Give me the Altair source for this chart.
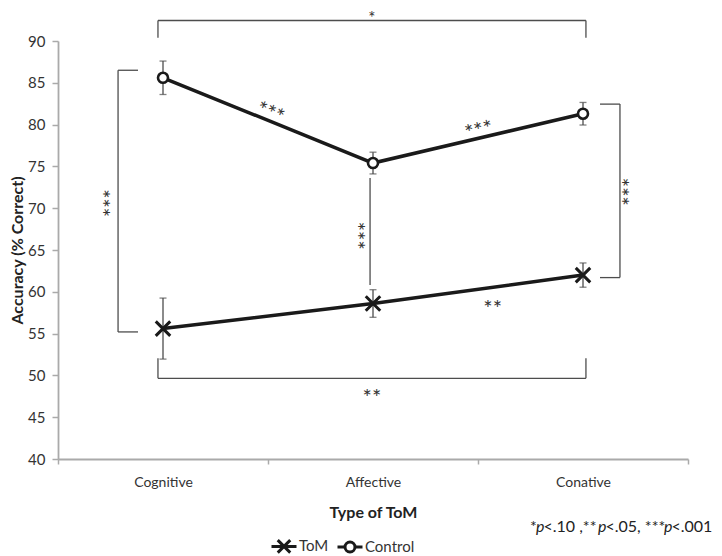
import altair as alt
import pandas as pd

# ---------------- data ----------------
categories = ["Cognitive", "Affective", "Conative"]
tom_mean = [55.6, 58.6, 62.0]
tom_err = [3.65, 1.65, 1.45]
control_mean = [85.6, 75.4, 81.3]
control_err = [2.0, 1.3, 1.35]
groups = ["ToM", "Control"]

# significance brackets (x in category units, 0..3; y in % correct)
br_x = [0.476, 0.476, 2.514, 0.286, 0.286, 0.286, 1.486, 2.676, 2.581, 2.581, 0.476, 0.476, 2.514]
br_x2 = [2.514, 0.476, 2.514, 0.286, 0.381, 0.381, 1.486, 2.676, 2.676, 2.676, 2.514, 0.476, 2.514]
br_y = [92.45, 92.45, 92.45, 86.5, 86.5, 55.2, 73.6, 82.45, 82.45, 61.7, 49.65, 49.65, 49.65]
br_y2 = [92.45, 90.4, 90.4, 55.2, 86.5, 55.2, 60.8, 61.7, 82.45, 61.7, 49.65, 52.05, 52.05]

star_text = ["*", "***", "***", "**", "***", "***", "***", "**"]
star_x = [1.495, 1.01, 2.005, 2.07, 0.204, 1.419, 2.676, 1.495]
star_y = [92.58, 81.3, 79.2, 57.98, 70.6, 66.7, 71.95, 47.3]
star_angle = [0, 22, 347, 0, 90, 90, 90, 0]

foot_text = ["*", "p", "<.10 ,**", "p", "<.05, ***", "p", "<.001"]
foot_italic = [False, True, False, True, False, True, False]
foot_px = [472, 478, 485.5, 540, 547.5, 606, 613.5]

# ---------------- tables ----------------
rows = []
for i, c in enumerate(categories):
    rows.append({"cat": c, "x": i + 0.5, "group": "ToM", "mean": tom_mean[i],
                 "lo": tom_mean[i] - tom_err[i], "hi": tom_mean[i] + tom_err[i]})
    rows.append({"cat": c, "x": i + 0.5, "group": "Control", "mean": control_mean[i],
                 "lo": control_mean[i] - control_err[i], "hi": control_mean[i] + control_err[i]})
df = pd.DataFrame(rows)
br = pd.DataFrame({"x": br_x, "x2": br_x2, "y": br_y, "y2": br_y2})
stars = pd.DataFrame({"t": star_text, "x": star_x, "y": star_y, "a": star_angle})
foot = pd.DataFrame({"t": foot_text, "it": foot_italic, "px": foot_px})
leg = pd.DataFrame({"group": groups, "x": [0.5, 0.5], "mean": [60, 60]})

FONT = "Lato"
INK = "#1a1a1a"
GREY = "#4d4d4d"

lab_expr = " : ".join(
    [f"datum.value == {i + 0.5} ? '{c}'" for i, c in enumerate(categories)]) + " : ''"

xscale = alt.Scale(domain=[0, 3], nice=False, zero=False)
yscale = alt.Scale(domain=[40, 90], nice=False, zero=False)

xaxis = alt.Axis(
    values=[0, 0.5, 1, 1.5, 2, 2.5, 3], labelExpr=lab_expr, title="Type of ToM",
    grid=False, tickOpacity={"condition": {"test": "datum.value % 1 === 0", "value": 1}, "value": 0},
    tickSize=5, tickWidth=1.5, tickColor="#aaaaaa", domainColor="#aaaaaa", domainWidth=1.8,
    labelFont=FONT, labelFontSize=14, labelColor="#333333", labelPadding=11,
    labelOverlap=False, labelBound=False, labelFlush=False,
    titleFont=FONT, titleFontSize=16, titleFontWeight="bold", titleColor="#222222", titlePadding=15,
)
yaxis = alt.Axis(
    values=[40, 45, 50, 55, 60, 65, 70, 75, 80, 85, 90], title="Accuracy (% Correct)",
    grid=False, tickSize=6, tickWidth=1.5, tickColor="#aaaaaa", domainColor="#aaaaaa", domainWidth=1.8,
    labelFont=FONT, labelFontSize=15, labelColor="#333333", labelPadding=7,
    titleFont=FONT, titleFontSize=16, titleFontWeight="bold", titleColor="#222222", titlePadding=2,
)

base = alt.Chart(df)

brackets = alt.Chart(br).mark_rule(color=GREY, strokeWidth=1.3).encode(
    x=alt.X("x:Q", scale=xscale, axis=xaxis), x2="x2:Q",
    y=alt.Y("y:Q", scale=yscale, axis=yaxis), y2="y2:Q")

lines = base.mark_line(color=INK, strokeWidth=3.5).encode(
    x=alt.X("x:Q", scale=xscale), y=alt.Y("mean:Q", scale=yscale), detail="group:N")

ebars = base.mark_rule(color=GREY, strokeWidth=1.3).encode(
    x="x:Q", y="lo:Q", y2="hi:Q")
cap_lo = base.mark_tick(orient="horizontal", size=7, thickness=1.3, color=GREY).encode(
    x="x:Q", y="lo:Q")
cap_hi = base.mark_tick(orient="horizontal", size=7, thickness=1.3, color=GREY).encode(
    x="x:Q", y="hi:Q")

tom_pts = base.transform_filter("datum.group == 'ToM'").mark_point(
    shape="M-1,-1L1,1M-1,1L1,-1", size=210, strokeWidth=3, color=INK, filled=False, opacity=1
).encode(x="x:Q", y="mean:Q")
ctl_pts = base.transform_filter("datum.group == 'Control'").mark_point(
    shape="circle", size=100, strokeWidth=2.6, stroke=INK, fill="white", opacity=1, fillOpacity=1
).encode(x="x:Q", y="mean:Q")

star_enc = dict(x="x:Q", y="y:Q", text="t:N", angle=alt.Angle("a:Q", scale=None))
star_layer = alt.Chart(stars).transform_filter("datum.t != '*'").mark_text(
    font=FONT, fontSize=22, color="#333333", baseline="middle", align="center"
).encode(**star_enc)
top_star = alt.Chart(stars).transform_filter("datum.t == '*'").mark_text(
    font=FONT, fontSize=17, color="#333333", baseline="middle", align="center"
).encode(**star_enc)

foot_norm = alt.Chart(foot).transform_filter("!datum.it").mark_text(
    font=FONT, fontSize=16, color="#222222", baseline="middle", align="left"
).encode(x=alt.X("px:Q", scale=None), y=alt.value(486), text="t:N")
foot_ital = alt.Chart(foot).transform_filter("datum.it").mark_text(
    font=FONT, fontSize=16, fontStyle="italic", color="#222222", baseline="middle", align="left"
).encode(x=alt.X("px:Q", scale=None), y=alt.value(486), text="t:N")

path_tom = "M-1,0L1,0M-0.5,-0.5L0.5,0.5M-0.5,0.5L0.5,-0.5"
path_ctl = "M-1,0L-0.4,0M0.4,0L1,0M-0.4,0A0.4,0.4,0,1,1,0.4,0A0.4,0.4,0,1,1,-0.4,0Z"
legend_layer = alt.Chart(leg).mark_point(opacity=0).encode(
    x="x:Q", y="mean:Q",
    shape=alt.Shape("group:N", scale=alt.Scale(domain=groups, range=[path_tom, path_ctl]),
                    legend=alt.Legend(
                        title=None, orient="none", legendX=212, legendY=491, direction="horizontal",
                        symbolSize=625, symbolStrokeWidth=3, symbolStrokeColor=INK,
                        symbolFillColor="white", symbolOpacity=1, labelFont=FONT, labelFontSize=15,
                        labelColor="#333333", labelOffset=1, columnPadding=2, padding=0)))

chart = alt.layer(
    brackets, lines, ebars, cap_lo, cap_hi, tom_pts, ctl_pts, star_layer, top_star,
    foot_norm, foot_ital, legend_layer
).properties(
    width=630, height=418,
    autosize=alt.AutoSizeParams(type="none"),
    padding={"left": 50, "top": 33, "right": 26, "bottom": 97},
).configure_view(stroke=None)

chart.save("out.html", embed_options={"renderer": "svg", "actions": False})
